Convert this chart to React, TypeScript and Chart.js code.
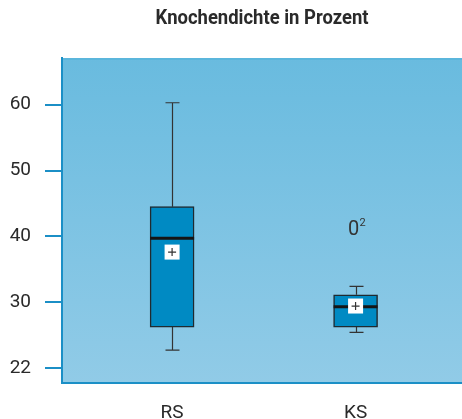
import React, { useEffect, useRef } from "react";
import { Chart, registerables } from "chart.js";

Chart.register(...registerables);

const title = "Knochendichte in Prozent";
const categories = ["RS", "KS"];
const positions = [1, 2];
const whiskerMin = [22.7, 25.4];
const q1 = [26.2, 26.2];
const median = [39.7, 29.3];
const q3 = [44.5, 31.1];
const whiskerMax = [60.3, 32.4];
const means = [37.6, 29.4];
const outlierValues: (number | null)[] = [null, 41];
const outlierCounts: (number | null)[] = [null, 2];
const tickValues = [20, 30, 40, 50, 60];
const tickLabels = ["22", "30", "40", "50", "60"];

const BLUE = "#1b8fc6";
const TEXT = "#2a2a2a";
const FONT = "Roboto, 'Liberation Sans', sans-serif";

const boxPlugin = {
  id: "boxExtras",
  beforeDraw(chart: any) {
    const { ctx, chartArea } = chart;
    const g = ctx.createLinearGradient(0, chartArea.top, 0, chartArea.bottom);
    g.addColorStop(0, "#69bbdf");
    g.addColorStop(1, "#91cbe7");
    ctx.save();
    ctx.fillStyle = g;
    ctx.fillRect(chartArea.left, chartArea.top, chartArea.right - chartArea.left, chartArea.bottom - chartArea.top);
    ctx.strokeStyle = "#5bb6dc";
    ctx.lineWidth = 2;
    ctx.beginPath();
    ctx.moveTo(chartArea.left, chartArea.top + 1);
    ctx.lineTo(chartArea.right, chartArea.top + 1);
    ctx.stroke();
    // title centered on chart area, condensed
    ctx.fillStyle = TEXT;
    ctx.font = "bold 20px " + FONT;
    ctx.textAlign = "center";
    ctx.textBaseline = "middle";
    const w = ctx.measureText(title).width;
    const sx = Math.min(1, 213 / w);
    ctx.translate((chartArea.left + chartArea.right) / 2, 19);
    ctx.scale(sx, 1);
    ctx.fillText(title, 0, 0);
    ctx.restore();
  },
  beforeDatasetsDraw(chart: any) {
    const { ctx } = chart;
    const xs = chart.scales.x;
    const ys = chart.scales.y;
    ctx.save();
    ctx.strokeStyle = "#333333";
    ctx.lineWidth = 1.2;
    positions.forEach((p, i) => {
      const x = Math.round(xs.getPixelForValue(p)) + 0.5;
      const yMax = ys.getPixelForValue(whiskerMax[i]);
      const yMin = ys.getPixelForValue(whiskerMin[i]);
      const yQ1 = ys.getPixelForValue(q1[i]);
      const yQ3 = ys.getPixelForValue(q3[i]);
      ctx.beginPath();
      ctx.moveTo(x, yQ3);
      ctx.lineTo(x, yMax);
      ctx.moveTo(x - 7, yMax);
      ctx.lineTo(x + 7, yMax);
      ctx.moveTo(x, yQ1);
      ctx.lineTo(x, yMin);
      ctx.moveTo(x - 7, yMin);
      ctx.lineTo(x + 7, yMin);
      ctx.stroke();
    });
    ctx.restore();
  },
  afterDatasetsDraw(chart: any) {
    const { ctx } = chart;
    const xs = chart.scales.x;
    const ys = chart.scales.y;
    ctx.save();
    positions.forEach((p, i) => {
      const x = xs.getPixelForValue(p);
      const ym = ys.getPixelForValue(median[i]);
      ctx.strokeStyle = "#151515";
      ctx.lineWidth = 3;
      ctx.beginPath();
      ctx.moveTo(x - 22, ym);
      ctx.lineTo(x + 22, ym);
      ctx.stroke();
      // mean marker
      const yMean = ys.getPixelForValue(means[i]);
      ctx.fillStyle = "#ffffff";
      ctx.fillRect(x - 7.5, yMean - 7.5, 15, 15);
      ctx.strokeStyle = "#333333";
      ctx.lineWidth = 1.2;
      ctx.beginPath();
      ctx.moveTo(x - 4, yMean);
      ctx.lineTo(x + 4, yMean);
      ctx.moveTo(x, yMean - 4);
      ctx.lineTo(x, yMean + 4);
      ctx.stroke();
      const ov = outlierValues[i];
      if (ov !== null) {
        const yo = ys.getPixelForValue(ov);
        ctx.fillStyle = "#333333";
        ctx.font = "20px " + FONT;
        ctx.textAlign = "center";
        ctx.textBaseline = "middle";
        ctx.fillText("0", x - 2, yo);
        ctx.font = "11px " + FONT;
        ctx.textAlign = "left";
        ctx.fillText(String(outlierCounts[i]), x + 4, yo - 6);
      }
    });
    ctx.restore();
  },
};

export default function App() {
  const ref = useRef<HTMLCanvasElement>(null);
  useEffect(() => {
    if (!ref.current) return;
    const chart = new Chart(ref.current, {
      type: "bar",
      data: {
        datasets: [
          {
            data: positions.map((p, i) => ({ x: p, y: [q1[i], q3[i]] })) as any,
            backgroundColor: "#008ac3",
            borderColor: "#1f2a30",
            borderWidth: 1.5,
            borderSkipped: false,
            barThickness: 44,
          },
        ],
      },
      options: {
        responsive: false,
        animation: false,
        layout: { padding: { top: 58, left: 0, right: 0, bottom: 0 } },
        plugins: {
          legend: { display: false },
          tooltip: { enabled: false },
          title: { display: false },
        },
        scales: {
          x: {
            type: "linear",
            min: 0.4,
            max: 2.58,
            offset: false,
            afterBuildTicks: (s: any) => {
              s.ticks = positions.map((v) => ({ value: v }));
            },
            afterFit: (s: any) => {
              s.height = 36;
            },
            grid: { display: false },
            border: { display: true, color: BLUE, width: 2 },
            ticks: {
              padding: 11,
              color: TEXT,
              font: { family: FONT, size: 19 },
              callback: (v: any) => categories[positions.indexOf(v)] ?? "",
            },
          },
          y: {
            type: "linear",
            min: 17.7,
            max: 67.1,
            afterBuildTicks: (s: any) => {
              s.ticks = tickValues.map((v) => ({ value: v }));
            },
            afterFit: (s: any) => {
              s.width = 62;
            },
            grid: {
              drawOnChartArea: false,
              drawTicks: true,
              tickLength: 17,
              color: BLUE,
              lineWidth: 2,
            },
            border: { display: true, color: BLUE, width: 2 },
            ticks: {
              padding: 14,
              color: TEXT,
              font: { family: FONT, size: 19 },
              callback: (v: any) => tickLabels[tickValues.indexOf(v)] ?? "",
            },
          },
        },
      },
      plugins: [boxPlugin],
    });
    return () => chart.destroy();
  }, []);
  return (
    <div style={{ position: "fixed", left: 0, top: 0, width: 462, height: 419, background: "#fff" }}>
      <canvas ref={ref} width={462} height={419} style={{ display: "block" }} />
    </div>
  );
}
